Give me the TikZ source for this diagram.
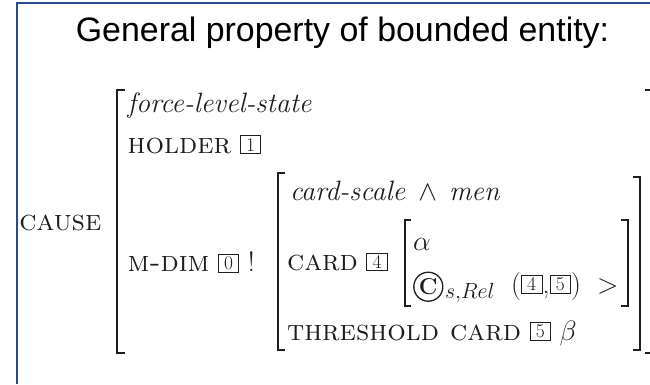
\RequirePackage{fix-cm}
\documentclass[tikz,border=0pt]{standalone}
\usepackage{fontspec}
\newfontfamily\titlefont{Liberation Sans}
\definecolor{frameblue}{HTML}{2A4B8D}
\definecolor{ink}{HTML}{1E1E1E}
\newcommand\bx[1]{\raisebox{2.2pt}{\setlength\fboxsep{1.8pt}\setlength\fboxrule{1pt}\fbox{\hbox to 16pt{\hss\fontsize{19.5}{19.5}\selectfont #1\hss}}}}
\newcommand\SC[1]{{\fontsize{29.2}{34}\selectfont\textsc{#1}}}
\begin{document}
\begin{tikzpicture}[x=1pt,y=-1pt,
  txt/.style={anchor=base west, inner sep=0, outer sep=0, text=ink, font=\fontsize{28}{34}\selectfont},
  brk/.style={draw=ink, line width=1.7pt},
  frame/.style={draw=frameblue, line width=2pt}]
\useasboundingbox (0,0) rectangle (650,384);
% frame
\draw[frame] (650,3) -- (16.5,3) -- (16.5,384);
% title
\node[anchor=base, inner sep=0, font=\titlefont\fontsize{33.9}{40}\selectfont, text=black] (title) at (342.5,41.5) {General property of bounded entity:};
% texts
\node[txt] (fls) at (127.7,112) {\textit{force-level-state}};
\node[txt] (holder) at (127.7,153.3) {\SC{holder} \bx{1}};
\node[txt] (cause) at (19.3,230) {\SC{cause}};
\node[txt] (mdim) at (127.7,271.7) {\SC{m-dim} \bx{0} !};
\node[txt] (cs) at (290,200.7) {\textit{card-scale}\hspace{13pt}$\wedge$\hspace{12pt}\textit{men}};
\node[txt] (card) at (287,270.7) {\SC{card} \bx{4}};
\node[txt] (alpha) at (413,250) {$\alpha$};
\node[circle, draw=ink, line width=1.3pt, minimum size=29pt, inner sep=0, font=\fontsize{23}{23}\selectfont\bfseries, text=ink] (copy) at (428.3,286.7) {C};
\node[txt, font=\fontsize{22}{22}\selectfont] (sub) at (445,298) {$s{,}Rel$};
\node[txt] (pair) at (511,293) {$($\bx{4},\bx{5}$)$};
\node[txt] (gt) at (597,293) {$>$};
\node[txt] (thr) at (287,340) {\SC{threshold card} \bx{5} $\beta$};
% brackets
\draw[brk] (125,90) -- (116.7,90) -- (116.7,353) -- (125,353);
\draw[brk] (285,173) -- (278.3,173) -- (278.3,350) -- (285,350);
\draw[brk] (633,177) -- (640,177) -- (640,350) -- (633,350);
\draw[brk] (411,220) -- (405,220) -- (405,306) -- (411,306);
\draw[brk] (621,220) -- (628,220) -- (628,306) -- (621,306);
\draw[brk] (645,90) -- (650,90);
\draw[brk] (645,353) -- (650,353);
\end{tikzpicture}
\end{document}
